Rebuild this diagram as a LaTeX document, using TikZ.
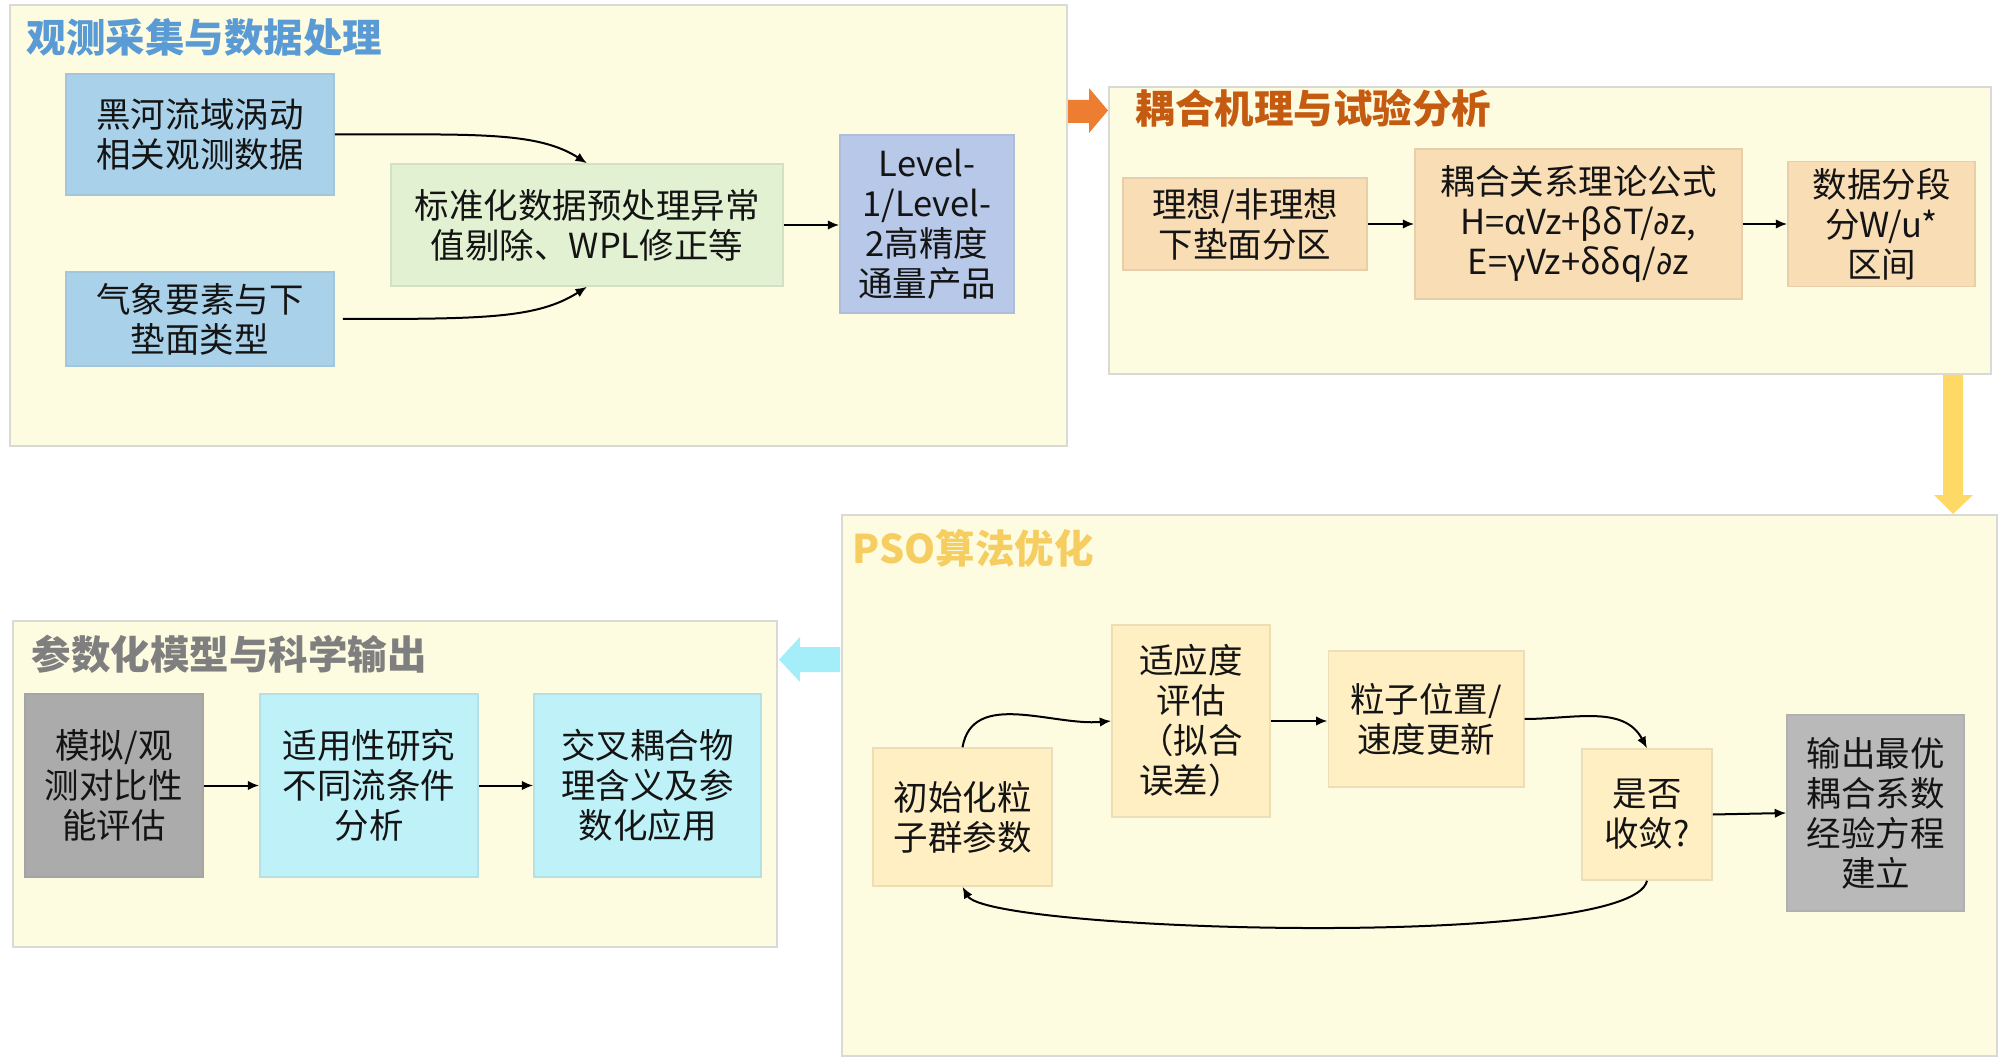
\documentclass[tikz,border=0pt]{standalone}
\usepackage{fontspec}
\setmainfont{Noto Sans CJK SC}
\newfontfamily\dejavu{DejaVu Sans}[Scale=0.92]
\usetikzlibrary{arrows.meta}
\definecolor{panelfill}{HTML}{FEFCE0}
\definecolor{panelline}{HTML}{D9D9D6}
\definecolor{cblue}{HTML}{A9D2EA}
\definecolor{cgreen}{HTML}{E3F1D3}
\definecolor{clevel}{HTML}{B7C8E8}
\definecolor{cpeach}{HTML}{F9DDB5}
\definecolor{cpso}{HTML}{FFEFC3}
\definecolor{cgrayA}{HTML}{B9B9B9}
\definecolor{cgrayB}{HTML}{ABABAB}
\definecolor{ccyan}{HTML}{BFF2F8}
\definecolor{tblue}{HTML}{5B9BD5}
\definecolor{torange}{HTML}{C55A11}
\definecolor{tyellow}{HTML}{F5CD60}
\definecolor{tgray}{HTML}{7F7F7F}
\definecolor{aorange}{HTML}{ED7D31}
\definecolor{ayellow}{HTML}{FFD966}
\definecolor{acyan}{HTML}{A3EEF9}
\newcommand{\pd}{{\dejavu ∂}}
\begin{document}
\begin{tikzpicture}[x=0.4pt,y=-0.4pt,
  panel/.style={draw=panelline, line width=0.8pt, fill=panelfill},
  box/.style={rectangle, inner sep=0pt, align=center, line width=0.6pt,
    font=\fontsize{13.8pt}{16pt}\selectfont, text=black!92},
  bluebox/.style={box, fill=cblue, draw=cblue!85!gray},
  greenbox/.style={box, fill=cgreen, draw=cgreen!85!gray},
  levelbox/.style={box, fill=clevel, draw=clevel!85!gray},
  peachbox/.style={box, fill=cpeach, draw=cpeach!85!gray},
  psobox/.style={box, fill=cpso, draw=cpso!85!gray},
  grayAbox/.style={box, fill=cgrayA, draw=cgrayA!85!gray},
  grayBbox/.style={box, fill=cgrayB, draw=cgrayB!85!gray},
  cyanbox/.style={box, fill=ccyan, draw=ccyan!85!gray},
  ptitle/.style={anchor=west, inner sep=0pt, font=\fontsize{15.8pt}{18pt}\selectfont\bfseries},
  arr/.style={-{Latex[length=4.6pt,width=3.8pt]}, line width=0.8pt, black}
]
\useasboundingbox (0,0) rectangle (2000,1058);
\fill[white] (0,0) rectangle (2000,1058);

% panels
\path[panel] (10,5) rectangle (1067,446);
\path[panel] (1109,87) rectangle (1991,374);
\path[panel] (842,515) rectangle (1997,1056);
\path[panel] (13,621) rectangle (777,947);

% block arrows between panels
\fill[aorange] (1068,100) -- (1089,100) -- (1089,88) -- (1108,110.5) -- (1089,133) -- (1089,123) -- (1068,123) -- cycle;
\fill[ayellow] (1943,375) -- (1963,375) -- (1963,495) -- (1973,495) -- (1953,514) -- (1934,495) -- (1943,495) -- cycle;
\fill[acyan] (840,647) -- (800,647) -- (800,637) -- (779,659.5) -- (800,682) -- (800,672) -- (840,672) -- cycle;

% titles
\node[ptitle, text=tblue] (t1) at (26,38) {观测采集与数据处理};
\node[ptitle, text=torange] (t2) at (1135,108) {耦合机理与试验分析};
\node[ptitle, text=tyellow] (t3) at (852,548) {PSO算法优化};
\node[ptitle, text=tgray] (t4) at (31,654) {参数化模型与科学输出};

% panel 1
\node[bluebox, minimum width=107.2pt, minimum height=48.4pt] (hh) at (200,134.5) {黑河流域涡动\\相关观测数据};
\node[bluebox, minimum width=107.2pt, minimum height=37.6pt] (qx) at (200,319) {气象要素与下\\垫面类型};
\node[greenbox, minimum width=156.8pt, minimum height=48.8pt] (bz) at (587,225) {标准化数据预处理异常\\值剔除、WPL修正等};
\node[levelbox, minimum width=69.6pt, minimum height=71.2pt] (lv) at (927,224) {Level-\\1/Level-\\2高精度\\通量产品};

\draw[arr] (hh.east) .. controls +(140,0) and +(-50,-32) .. (bz.north);
\draw[arr] ([xshift=3.2pt]qx.east) .. controls +(140,0) and +(-50,32) .. (bz.south);
\draw[arr] (bz.east) -- (bz.east -| lv.west);

% panel 2
\node[peachbox, minimum width=97.6pt, minimum height=36.8pt] (lx) at (1245,224) {理想/非理想\\下垫面分区};
\node[peachbox, minimum width=130.8pt, minimum height=60pt] (oh) at (1578.5,224) {耦合关系理论公式\\H=αVz+βδT/\pd z,\\E=γVz+δδq/\pd z};
\node[peachbox, minimum width=74.8pt, minimum height=50pt] (sj) at (1881.5,224) {数据分段\\分W/u*\\区间};

\draw[arr] (lx.east) -- (oh.west);
\draw[arr] (oh.east) -- (sj.west);

% panel 3 (PSO)
\node[psobox, minimum width=71.6pt, minimum height=55.2pt] (init) at (962.5,817) {初始化粒\\子群参数};
\node[psobox, minimum width=63.2pt, minimum height=76.8pt] (fit) at (1191,721) {适应度\\评估\\（拟合\\误差）};
\node[psobox, minimum width=78.2pt, minimum height=54.4pt] (upd) at (1426,719) {粒子位置/\\速度更新};
\node[psobox, minimum width=52pt, minimum height=52.4pt] (conv) at (1647,814.5) {是否\\收敛?};
\node[grayAbox, minimum width=70.8pt, minimum height=78.4pt] (out) at (1875.5,813) {输出最优\\耦合系数\\经验方程\\建立};

\draw[arr] (init.north) to[out=80,in=185] (fit.west);
\draw[arr] (fit.east) -- (fit.east -| upd.west);
\draw[arr] (upd.east) to[out=0,in=118] (conv.north);
\draw[arr] (conv.south) .. controls +(-15,70) and +(25,45) .. (init.south);
\draw[arr] (conv.east) -- (out.west);

% panel 4
\node[grayBbox, minimum width=71pt, minimum height=73.2pt] (sim) at (114,785.5) {模拟/观\\测对比性\\能评估};
\node[cyanbox, minimum width=87.2pt, minimum height=73.2pt] (app) at (369,785.5) {适用性研究\\不同流条件\\分析};
\node[cyanbox, minimum width=90.8pt, minimum height=73.2pt] (cross) at (647.5,785.5) {交叉耦合物\\理含义及参\\数化应用};

\draw[arr] (sim.east) -- (app.west);
\draw[arr] (app.east) -- (cross.west);
\end{tikzpicture}
\end{document}
